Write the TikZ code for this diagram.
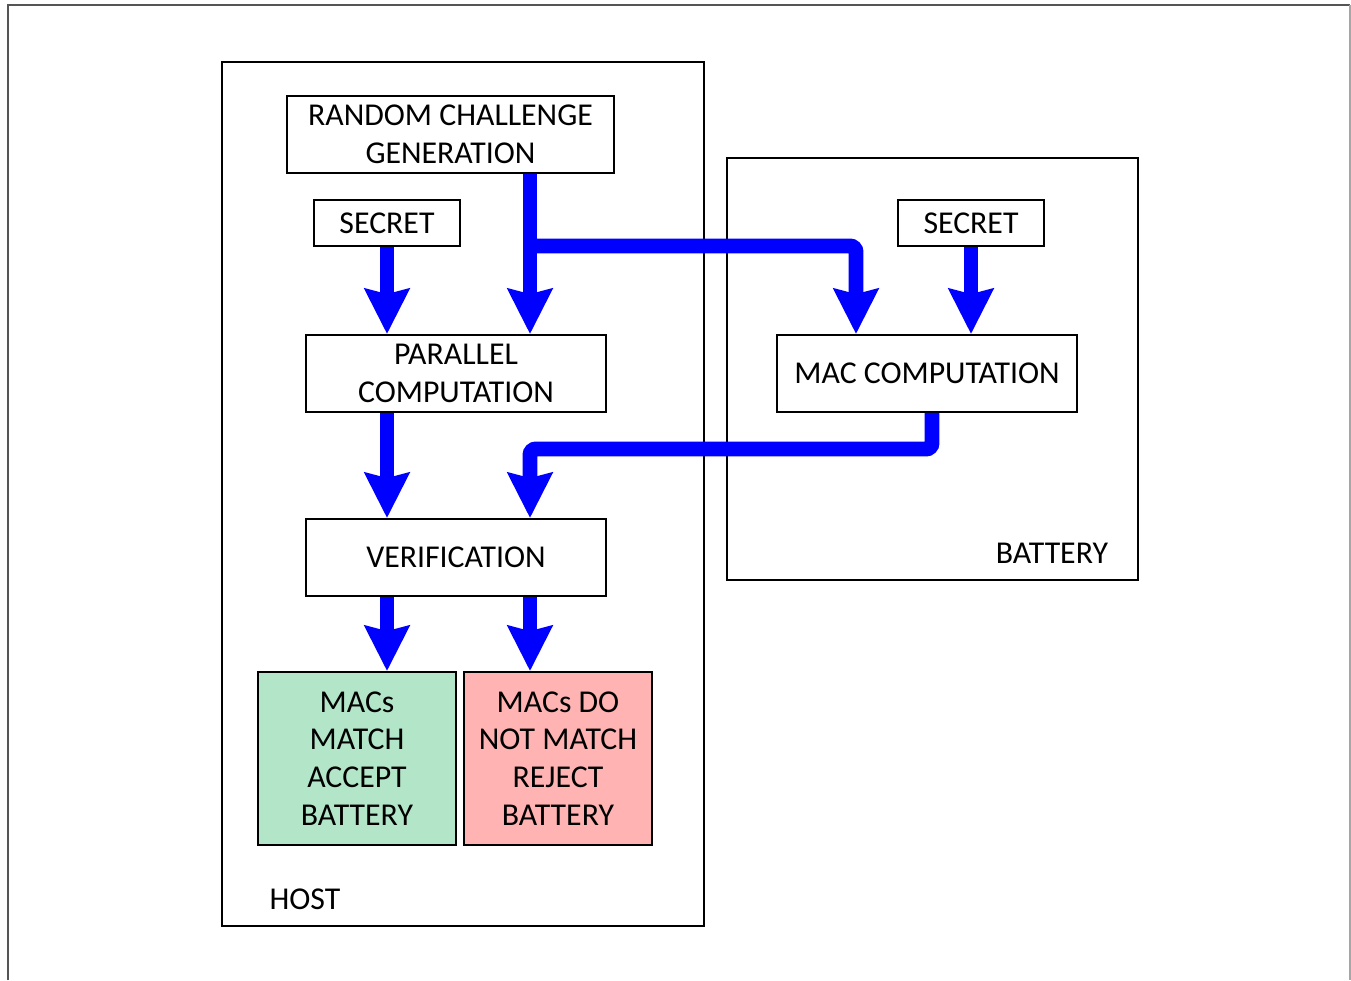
\documentclass[tikz,border=0pt]{standalone}
\usepackage{fontspec}
\setmainfont{Carlito}
\usepackage{xcolor}
\usetikzlibrary{arrows.meta}
\definecolor{flowblue}{HTML}{0000FF}
\definecolor{okgreen}{HTML}{B3E6C8}
\definecolor{badred}{HTML}{FFB3B3}
\definecolor{frame}{HTML}{555555}

\begin{document}
\begin{tikzpicture}[x=0.02cm,y=-0.02cm,
    every node/.style={font=\fontsize{18.1}{21.5}\selectfont},
    blockbox/.style={draw=black,line width=1.1pt,align=center,inner sep=2pt},
    flow/.style={draw=flowblue,line width=8.5pt,-{Stealth[length=0.9cm,width=0.88cm,inset=0.1cm]},rounded corners=0.12cm}]
  \useasboundingbox (0,0) rectangle (1351,980);
  % page frame
  \draw[frame,line width=0.9pt] (8,980)--(8,5)--(1350,5);
  \draw[gray!70,line width=0.9pt] (1350,5)--(1350,980);
  % host and battery
  \draw[line width=1.1pt] (222,62) rectangle (704,926);
  \node at (305,899) (hostlbl) {HOST};
  \draw[line width=1.1pt] (727,158) rectangle (1138,580);
  \node at (1052,553) (batlbl) {BATTERY};
  % blocks
  \node[blockbox,minimum width=6.54cm,minimum height=1.54cm] (rcg) at (450.5,134.5) {RANDOM CHALLENGE\\GENERATION};
  \node[blockbox,minimum width=2.92cm,minimum height=0.92cm] (sech) at (387,223) {SECRET};
  \node[blockbox,minimum width=6cm,minimum height=1.54cm] (par) at (456,373.5) {PARALLEL\\COMPUTATION};
  \node[blockbox,minimum width=6cm,minimum height=1.54cm] (ver) at (456,557.5) {VERIFICATION};
  \node[blockbox,fill=okgreen,minimum width=3.96cm,minimum height=3.46cm] (match) at (357,758.5) {MACs\\MATCH\\ACCEPT\\BATTERY};
  \node[blockbox,fill=badred,minimum width=3.76cm,minimum height=3.46cm] (nomatch) at (558,758.5) {MACs DO\\NOT MATCH\\REJECT\\BATTERY};
  \node[blockbox,minimum width=2.92cm,minimum height=0.92cm] (secb) at (971,223) {SECRET};
  \node[blockbox,minimum width=6cm,minimum height=1.54cm] (mac) at (927,373.5) {MAC COMPUTATION};
  % junctions
  \coordinate (split) at (530,246);
  \coordinate (macin) at (856,246);
  \coordinate (macout) at (932,449);
  \coordinate (verin) at (530,449);
  % arrows
  \draw[flow] (rcg.south -| split) -- (split |- par.north);
  \draw[flow] (split) -- (macin) -- (macin |- mac.north);
  \draw[flow] (sech.south) -- (sech.south |- par.north);
  \draw[flow] (secb.south) -- (secb.south |- mac.north);
  \draw[flow] (par.south -| sech) -- (sech |- ver.north);
  \draw[flow] (mac.south -| macout) -- (macout) -- (verin) -- (verin |- ver.north);
  \draw[flow] (ver.south -| sech) -- (sech |- match.north);
  \draw[flow] (ver.south -| split) -- (split |- nomatch.north);
\end{tikzpicture}
\end{document}
